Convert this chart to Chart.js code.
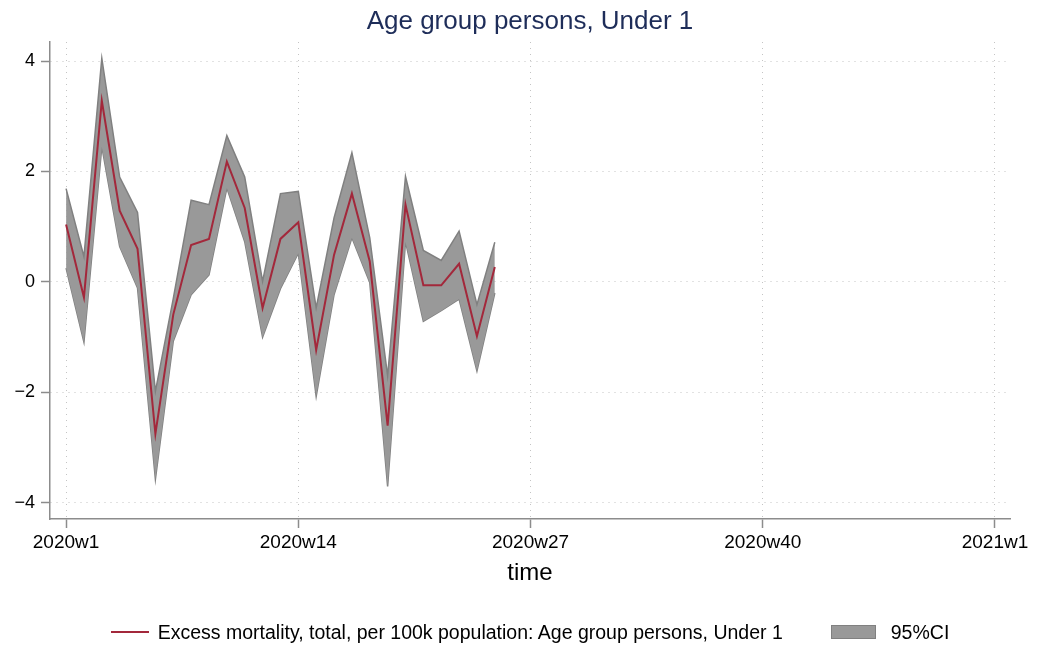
<!DOCTYPE html>
<html>
<head>
<meta charset="utf-8">
<title>Age group persons, Under 1</title>
<script src="https://cdn.jsdelivr.net/npm/chart.js@4"></script>
<style>
  html, body { margin: 0; padding: 0; background: #fff; }
  #wrap { position: relative; width: 1038px; height: 646px; }
  #title {
    position: absolute; left: 50px; top: 5px; width: 960px; line-height: 30px;
    text-align: center; font: 26px "Liberation Sans", Arial, sans-serif; color: #1e2d59;
  }
  #legend {
    position: absolute; left: 50px; top: 621px; width: 960px; height: 22px;
    display: flex; justify-content: center; align-items: center;
    font: 19.5px "Liberation Sans", Arial, sans-serif; color: #000;
  }
  #legend .line { width: 38px; height: 2px; background: #a3283b; margin-right: 9px; }
  #legend .box { width: 43px; height: 12px; background: #999; border: 1.5px solid #808080; margin-left: 48px; margin-right: 15px; }
</style>
</head>
<body>
<div id="wrap">
  <canvas id="chart" width="1038" height="646"></canvas>
  <div id="title">Age group persons, Under 1</div>
  <div id="legend">
    <span class="line"></span><span>Excess mortality, total, per 100k population: Age group persons, Under 1</span>
    <span class="box"></span><span>95%CI</span>
  </div>
</div>
<script>
// weeks of 2020 (Stata %tw), offset from 2020w1
var weeks = [0, 1, 2, 3, 4, 5, 6, 7, 8, 9, 10, 11, 12, 13, 14, 15, 16, 17, 18, 19, 20, 21, 22, 23, 24];

// excess mortality per 100k, under 1
var excess = [1.04, -0.28, 3.28, 1.29, 0.60, -2.75, -0.59, 0.67, 0.78, 2.18, 1.34, -0.47, 0.78,
              1.08, -1.23, 0.49, 1.60, 0.37, -2.60, 1.40, -0.06, -0.06, 0.33, -0.98, 0.27];
var ciUpper = [1.69, 0.46, 4.05, 1.90, 1.26, -1.98, -0.30, 1.48, 1.40, 2.65, 1.90, 0.01, 1.60,
               1.64, -0.47, 1.16, 2.34, 0.80, -1.70, 1.91, 0.57, 0.39, 0.92, -0.41, 0.72];
var ciLower = [0.25, -1.09, 2.45, 0.64, -0.11, -3.57, -1.07, -0.23, 0.13, 1.70, 0.73, -1.00, -0.12,
               0.52, -2.07, -0.23, 0.80, -0.01, -3.70, 0.73, -0.71, -0.52, -0.31, -1.61, -0.20];

var xTickValues = [0, 13, 26, 39, 52];
var xTickLabels = ['2020w1', '2020w14', '2020w27', '2020w40', '2021w1'];
var yTickValues = [-4, -2, 0, 2, 4];

var FONT = '"Liberation Sans", Arial, sans-serif';
var AXIS = '#8c8c8c';
var GRID = '#c4c4c4';

function points(values) {
  return weeks.map(function(w, i) { return {x: w, y: values[i]}; });
}

// stata style axis: solid line + ticks, dotted grid
function axisStyle() {
  return {
    grid: { color: GRID, lineWidth: 1, tickColor: AXIS, tickWidth: 1.5, tickLength: 9, tickBorderDash: [] },
    border: { color: AXIS, width: 1.5, dash: [1, 5] }
  };
}

var xAxis = axisStyle();
xAxis.type = 'linear';
xAxis.min = -0.9;
xAxis.max = 52.84;
xAxis.afterBuildTicks = function(scale) {
  scale.ticks = xTickValues.map(function(v) { return {value: v}; });
};
xAxis.afterFit = function(scale) { scale.height = 70; };
xAxis.ticks = {
  autoSkip: false, maxRotation: 0, padding: 3, color: '#000',
  font: { family: FONT, size: 19 },
  callback: function(v) { return xTickLabels[xTickValues.indexOf(v)]; }
};
xAxis.title = {
  display: true, text: 'time', color: '#000',
  font: { family: FONT, size: 24 }, padding: { top: 0, bottom: 1 }
};

var yAxis = axisStyle();
yAxis.min = -4.29;
yAxis.max = 4.344;
yAxis.afterBuildTicks = function(scale) {
  scale.ticks = yTickValues.map(function(v) { return {value: v}; });
};
yAxis.afterFit = function(scale) { scale.width = 50; };
yAxis.ticks = {
  padding: 6, color: '#000',
  font: { family: FONT, size: 18 },
  callback: function(v) { return v < 0 ? '\u2212' + Math.abs(v) : String(v); }
};

new Chart(document.getElementById('chart'), {
  type: 'line',
  data: {
    datasets: [
      {
        label: '95%CI upper', data: points(ciUpper), fill: '+1', order: 1,
        backgroundColor: '#999999', borderColor: '#808080', borderWidth: 1.5,
        pointRadius: 0, tension: 0
      },
      {
        label: '95%CI lower', data: points(ciLower), fill: false, order: 2,
        borderColor: '#808080', borderWidth: 1.5, pointRadius: 0, tension: 0
      },
      {
        label: 'Excess mortality, total, per 100k population: Age group persons, Under 1',
        data: points(excess), fill: false, order: 0,
        borderColor: '#a3283b', borderWidth: 2, pointRadius: 0, tension: 0
      }
    ]
  },
  options: {
    responsive: false,
    animation: false,
    layout: { padding: { left: 0, right: 28, top: 42, bottom: 57 } },
    plugins: {
      legend: { display: false },
      tooltip: { enabled: false },
      title: { display: false }
    },
    scales: { x: xAxis, y: yAxis }
  }
});
</script>
</body>
</html>
